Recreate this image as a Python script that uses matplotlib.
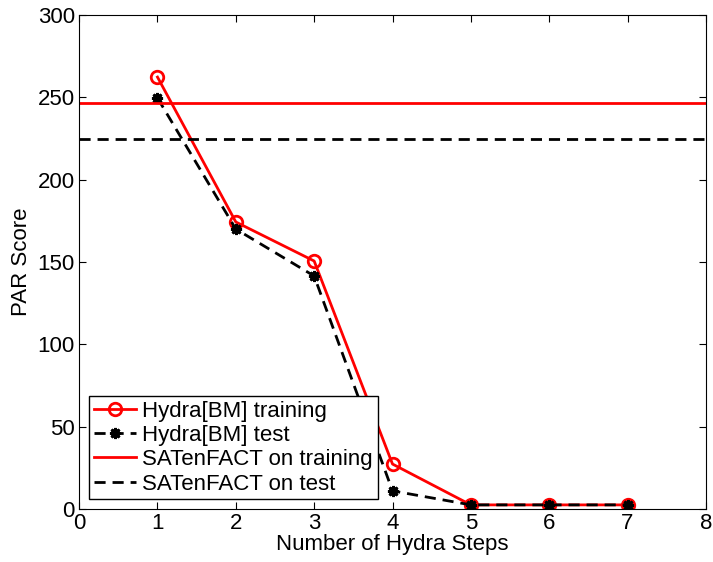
import numpy as np
import matplotlib
matplotlib.use("Agg")
import matplotlib.pyplot as plt

plt.rcParams['font.family'] = ['Liberation Sans', 'DejaVu Sans']

steps = [1, 2, 3, 4, 5, 6, 7]
hydra_train = [262.3, 174.3, 150.6, 27.3, 2.5, 2.5, 2.5]
hydra_test = [249.6, 170.0, 141.5, 11.0, 2.5, 2.5, 2.5]
satenfact_train = 246.5
satenfact_test = 224.7

fig = plt.figure(figsize=(7.13, 5.62), dpi=100)
ax = fig.add_axes([0.111, 0.0943, 0.879, 0.879])

ax.plot(steps, hydra_train, color='red', lw=2, marker='o', ms=9,
        mfc='none', mec='red', mew=2, label='Hydra[BM] training')
ax.plot(steps, hydra_test, color='black', lw=2, ls=(0, (4, 2.5)), marker=(8, 2, 0), ms=8,
        mec='black', mew=2, label='Hydra[BM] test')
ax.axhline(satenfact_train, color='red', lw=2, label='SATenFACT on training')
ax.axhline(satenfact_test, color='black', lw=2, ls=(0, (4, 2.5)), label='SATenFACT on test')

ax.set_xlim(0, 8)
ax.set_ylim(0, 300)
ax.set_xticks(range(0, 9))
ax.set_yticks(range(0, 301, 50))
ax.tick_params(direction='in', top=True, right=True, labelsize=16, length=5, pad=3)
ax.set_xlabel('Number of Hydra Steps', fontsize=16, labelpad=0)
ax.set_ylabel('PAR Score', fontsize=16, labelpad=4)

leg = ax.legend(loc='lower left', fontsize=16, handlelength=1.9, fancybox=False,
                framealpha=1, edgecolor='black', borderpad=0.2, labelspacing=0.15,
                handletextpad=0.3, borderaxespad=0.45)
leg.get_frame().set_linewidth(1)

fig.savefig('out.png', dpi=100)
